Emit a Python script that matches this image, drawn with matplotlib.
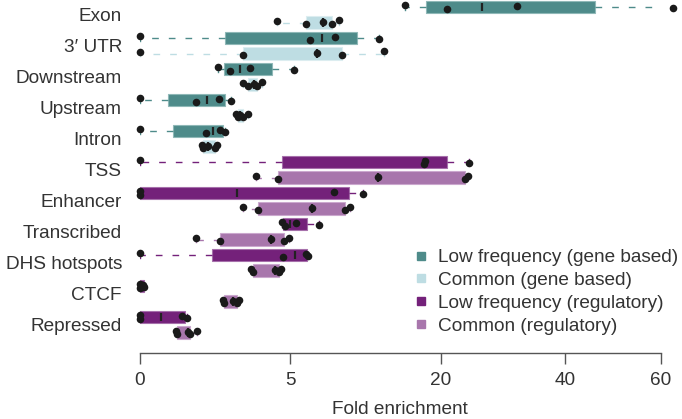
import numpy as np
import matplotlib
matplotlib.use('Agg')
import matplotlib.pyplot as plt
from matplotlib.lines import Line2D

plt.rcParams['font.family'] = ['Liberation Sans', 'DejaVu Sans']
plt.rcParams['text.color'] = '#333333'

categories = ['Exon', '3\u2032 UTR', 'Downstream', 'Upstream', 'Intron', 'TSS',
              'Enhancer', 'Transcribed', 'DHS hotspots', 'CTCF', 'Repressed']
n_gene_based = 5  # first five categories are gene based, the rest regulatory

# fold enrichment of each trait, one list per category
low_frequency = [
    [15.5, 20.9, 31.5, 62.9],
    [0, 6.40, 8.39, 12.67],
    [1.36, 1.79, 2.68, 5.27],
    [0, 0.69, 1.38, 1.83],
    [0, 0.96, 1.42, 1.60],
    [0, 17.8, 18.0, 24.0],
    [0, 0, 8.33, 11.03],
    [4.44, 4.65, 5.36, 7.11],
    [0, 4.53, 6.13, 6.21],
    [0, 0, 0.002, 0.004],
    [0, 0, 0.39, 0.49],
]
common = [
    [4.15, 6.08, 7.44, 8.16, 8.79],
    [0, 2.33, 6.96, 9.06, 13.21],
    [2.33, 2.60, 2.88, 3.01, 3.28],
    [2.04, 2.14, 2.21, 2.33, 2.60],
    [0.85, 0.89, 1.02, 1.25, 1.30],
    [2.98, 4.23, 12.57, 23.37, 23.85],
    [2.33, 3.07, 6.52, 9.30, 9.76],
    [0.69, 1.42, 3.78, 4.59, 4.93],
    [2.71, 2.85, 4.03, 4.28, 4.38],
    [1.54, 1.56, 1.93, 2.10, 2.18],
    [0.29, 0.31, 0.52, 0.55, 0.71],
]
x_ticks = [0, 5, 20, 40, 60]
legend_labels = ['Low frequency (gene based)', 'Common (gene based)',
                 'Low frequency (regulatory)', 'Common (regulatory)']
colors = ['#4E8B8A', '#BEDDE3', '#74217A', '#A876AC']
edge_colors = ['#8FB8B7', '#DCEDF0', '#A670AB', '#CBA8CE']


def fivenum_sqrt(vals):
    # Tukey hinges computed on the square-root scale
    s = np.sort(np.sqrt(np.asarray(vals, dtype=float)))
    n = len(s)
    n4 = np.floor((n + 3) / 2) / 2
    d = np.array([1, n4, (n + 1) / 2, n + 1 - n4, n]) - 1
    q = 0.5 * (s[np.floor(d).astype(int)] + s[np.ceil(d).astype(int)])
    return q ** 2


fig = plt.figure(figsize=(6.82, 4.19), dpi=100)
ax = fig.add_axes([140 / 682, 66 / 419, 520.7 / 682, 353 / 419])
ax.set_xscale('function', functions=(lambda x: np.sqrt(np.clip(x, 0, None)),
                                     lambda y: np.asarray(y) ** 2))

jitter = np.array([-0.10, 0.12, -0.04, 0.08, -0.13])
box_w = 0.82

for i, cat in enumerate(categories):
    grp = 0 if i < n_gene_based else 2
    for j, vals in enumerate([low_frequency[i], common[i]]):
        c = colors[grp + j]
        ec = edge_colors[grp + j]
        pos = 2 * i + j
        q = fivenum_sqrt(vals)
        stats = [dict(whislo=q[0], q1=q[1], med=q[2], q3=q[3], whishi=q[4], fliers=[])]
        bp = ax.bxp(stats, positions=[pos], widths=box_w, orientation='horizontal',
                    patch_artist=True, showfliers=False, capwidths=0.38,
                    boxprops=dict(facecolor=c, edgecolor=ec, linewidth=0.8),
                    whiskerprops=dict(color=c, linewidth=1.0, linestyle=(0, (4.8, 7.2))),
                    capprops=dict(color=c, linewidth=1.0),
                    medianprops=dict(color='#222222', linewidth=1.6))
        for med in bp['medians']:
            med.set_ydata([pos - 0.28, pos + 0.28])
        ax.scatter(vals, pos + jitter[:len(vals)], s=30, color='#1A1A1A',
                   zorder=5, clip_on=False, linewidths=0)

ax.set_xlim(0, 60)
ax.set_ylim(22.32, -0.452)

ax.set_yticks([2 * i + 0.5 for i in range(len(categories))])
ax.set_yticklabels(categories, fontsize=13.7, color='#333333')
ax.tick_params(axis='y', length=0, pad=13)

ax.set_xticks(x_ticks)
ax.set_xticklabels([str(t) for t in x_ticks], fontsize=13.7, color='#333333')
ax.xaxis.set_minor_locator(matplotlib.ticker.NullLocator())
ax.tick_params(axis='x', length=8, width=1.0, color='#555555', pad=5.5, direction='out')
ax.set_xlabel('Fold enrichment', fontsize=13.7, color='#333333', labelpad=9)

for side in ['left', 'top', 'right']:
    ax.spines[side].set_visible(False)
ax.spines['bottom'].set_bounds(0, 60)
ax.spines['bottom'].set_color('#555555')
ax.spines['bottom'].set_linewidth(1.0)

handles = [Line2D([], [], marker='s', linestyle='none', markersize=6.2,
                  markerfacecolor=c, markeredgecolor=c) for c in colors]
ax.legend(handles, legend_labels, loc='upper left', frameon=False,
          bbox_to_anchor=(413 / 682, 1 - 249 / 419), bbox_transform=fig.transFigure,
          borderpad=0, borderaxespad=0, handlelength=0.8, handletextpad=0.5,
          labelspacing=0.29, fontsize=13.7)

fig.savefig('out.png', dpi=100)
